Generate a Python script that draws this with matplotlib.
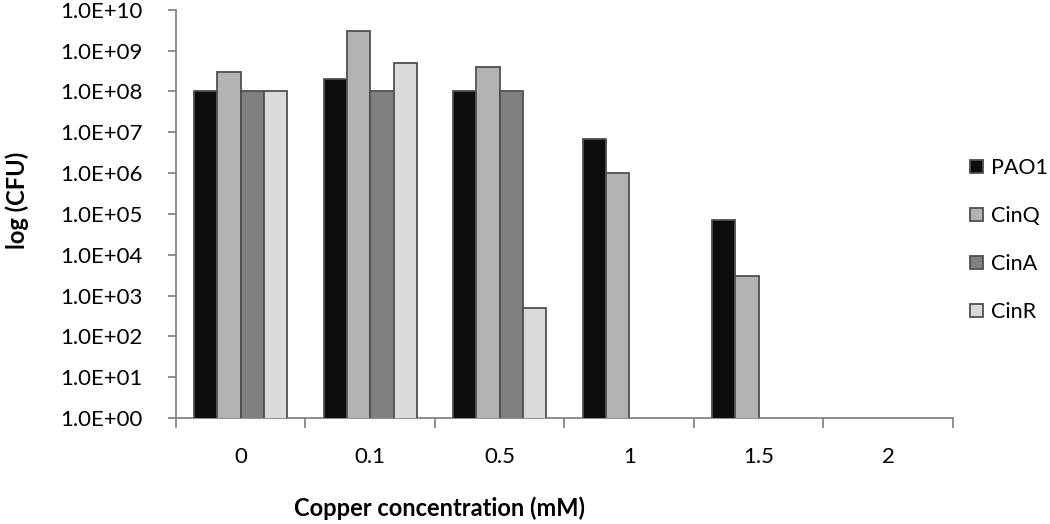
import numpy as np
import matplotlib.pyplot as plt
from matplotlib.ticker import FuncFormatter, NullLocator

plt.rcParams['font.family'] = ['Lato', 'DejaVu Sans']

# copper concentration (mM) and CFU counts per strain
concentrations = ['0', '0.1', '0.5', '1', '1.5', '2']
pao1 = [1e8, 2e8, 1e8, 7e6, 7e4, np.nan]
cinq = [3e8, 3e9, 4e8, 1e6, 3e3, np.nan]
cina = [1e8, 1e8, 1e8, np.nan, np.nan, np.nan]
cinr = [1e8, 5e8, 5e2, np.nan, np.nan, np.nan]

series = [('PAO1', pao1, '#0d0d0d'),
          ('CinQ', cinq, '#b3b3b3'),
          ('CinA', cina, '#808080'),
          ('CinR', cinr, '#dadada')]

fig = plt.figure(figsize=(10.5, 5.24), dpi=100)
ax = fig.add_axes([0.1676, 0.2023, 0.7400, 0.7792])

x = np.arange(len(concentrations))
w = 0.18
for j, (name, vals, col) in enumerate(series):
    ax.bar(x + (j - 1.5) * w, vals, w, color=col, edgecolor='#505050',
           linewidth=1.3, label=name, zorder=3)

ax.set_yscale('log')
ax.set_ylim(1, 1e10)
ax.set_yticks([10.0 ** k for k in range(11)])
ax.yaxis.set_minor_locator(NullLocator())
ax.yaxis.set_major_formatter(FuncFormatter(lambda v, p: f'{v:.1E}'))
ax.set_xlim(-0.5, len(concentrations) - 0.5)
ax.set_xticks(x)
ax.set_xticklabels(concentrations)
ax.set_xticks(np.arange(len(concentrations) + 1) - 0.5, minor=True)
ax.tick_params(axis='x', which='major', length=0, pad=21, labelsize=16)
ax.tick_params(axis='x', which='minor', length=7, width=1.3, color='#868686', direction='out')
ax.tick_params(axis='y', length=6, width=1.3, color='#868686', labelsize=16, pad=18)

for s in ['top', 'right']:
    ax.spines[s].set_visible(False)
for s in ['left', 'bottom']:
    ax.spines[s].set_color('#868686')
    ax.spines[s].set_linewidth(1.3)

fig.text(0.419, 0.030, 'Copper concentration (mM)', ha='center', va='center',
         fontsize=17, fontweight='bold')
fig.text(0.016, 0.618, 'log (CFU)', ha='center', va='center', rotation=90,
         fontsize=17, fontweight='bold')

ax.legend(loc='upper left', bbox_to_anchor=(0.9236, 0.6885, 0.07, 0.01),
          bbox_transform=fig.transFigure, frameon=False, fontsize=15.5,
          handlelength=0.6, handleheight=0.6, handletextpad=0.4,
          labelspacing=1.3, borderaxespad=0, borderpad=0)

fig.savefig('out.png', dpi=100)
